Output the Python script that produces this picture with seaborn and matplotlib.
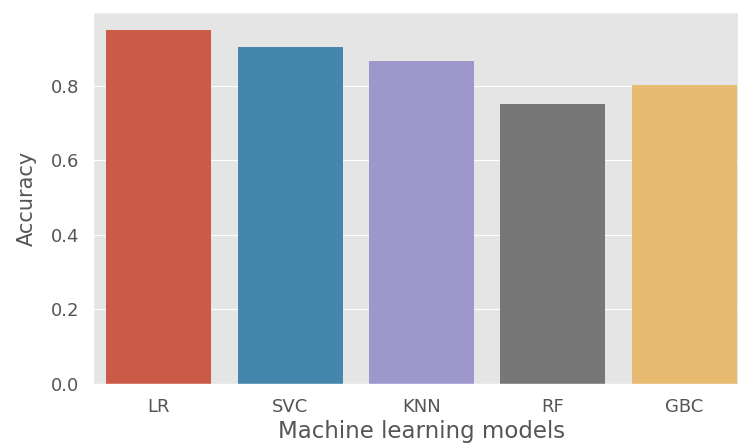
import matplotlib
matplotlib.use('Agg')
import matplotlib.pyplot as plt
import seaborn as sns
import pandas as pd

plt.style.use('ggplot')

models = ['LR', 'SVC', 'KNN', 'RF', 'GBC']
accuracy = [0.951, 0.904, 0.867, 0.751, 0.801]
colors = ['#E24A33', '#348ABD', '#988ED5', '#777777', '#FBC15E']

df = pd.DataFrame({'model': models, 'accuracy': accuracy})

fig = plt.figure(figsize=(7.38, 4.44), dpi=100)
ax = fig.add_axes([93 / 738, 60 / 444, 657 / 738, 372 / 444])
sns.barplot(data=df, x='model', y='accuracy', hue='model', palette=colors,
            legend=False, ax=ax)

ax.set_xlabel('Machine learning models', fontsize=16.5, color='#555555', labelpad=3)
ax.set_ylabel('Accuracy', fontsize=15, color='#555555', labelpad=10)
ax.tick_params(axis='both', labelsize=13, colors='#555555', length=0)
ax.tick_params(axis='y', pad=10)
ax.tick_params(axis='x', pad=10)
ax.set_ylim(0, 0.998)
ax.set_yticks([0.0, 0.2, 0.4, 0.6, 0.8])

fig.savefig('out.png', dpi=100)
